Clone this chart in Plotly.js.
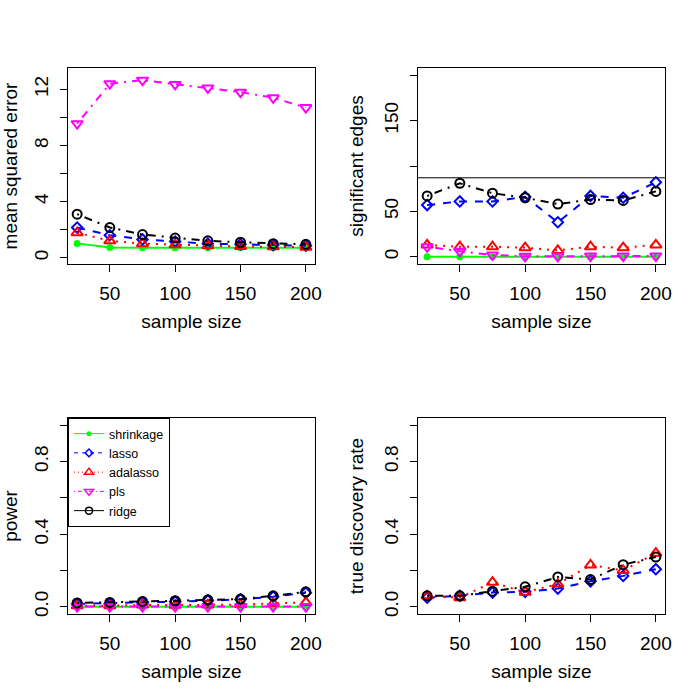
<!DOCTYPE html>
<html>
<head>
<meta charset="utf-8">
<script src="https://cdn.plot.ly/plotly-3.0.1.min.js"></script>
<style>html,body{margin:0;padding:0;background:#fff}#chart{width:700px;height:700px}</style>
</head>
<body>
<div id="chart"></div>
<script>
// ---- data ----
const sampleSize = [25, 50, 75, 100, 125, 150, 175, 200];
const methods = ["shrinkage", "lasso", "adalasso", "pls", "ridge"];

const mseShrinkage = [1.02, 0.72, 0.7, 0.7, 0.7, 0.7, 0.7, 0.7];
const mseLasso     = [2.15, 1.6, 1.3, 1.15, 1.0, 0.95, 0.9, 0.85];
const mseAdalasso  = [1.78, 1.2, 1.0, 0.92, 0.85, 0.8, 0.78, 0.75];
const msePls       = [9.55, 12.4, 12.65, 12.35, 12.1, 11.8, 11.4, 10.7];
const mseRidge     = [3.1, 2.15, 1.65, 1.4, 1.2, 1.1, 1.0, 0.95];

const edgesShrinkage = [0, 0, 0, 0, 0, 0, 0, 0];
const edgesLasso     = [57, 61, 61, 66, 38, 67, 65, 82];
const edgesAdalasso  = [13, 11, 11, 10, 7, 11, 10, 13];
const edgesPls       = [11, 6, 2, 0.5, 0.5, 0.8, 0.8, 0.8];
const edgesRidge     = [67, 81, 70, 65, 58, 63, 62, 72];
const trueEdges = 87;

const powerShrinkage = [0, 0, 0, 0, 0, 0, 0, 0];
const powerLasso     = [0.016, 0.018, 0.024, 0.028, 0.034, 0.04, 0.055, 0.077];
const powerAdalasso  = [0.005, 0.005, 0.01, 0.008, 0.01, 0.012, 0.018, 0.024];
const powerPls       = [0.001, 0.001, 0.001, 0.001, 0.001, 0.001, 0.001, 0.001];
const powerRidge     = [0.021, 0.024, 0.029, 0.033, 0.038, 0.042, 0.06, 0.082];

const tdrLasso    = [0.05, 0.06, 0.078, 0.082, 0.1, 0.14, 0.17, 0.207];
const tdrAdalasso = [0.06, 0.05, 0.135, 0.08, 0.125, 0.23, 0.2, 0.295];
const tdrRidge    = [0.06, 0.06, 0.086, 0.11, 0.164, 0.15, 0.232, 0.274];

const xTicks = [50, 100, 150, 200];
const mseTicks = [0, 2, 4, 6, 8, 10, 12];
const mseTickText = ["0", "", "4", "", "8", "", "12"];
const edgeTicks = [0, 50, 100, 150, 200];
const edgeTickText = ["0", "50", "", "150", ""];
const rateTicks = [0, 0.2, 0.4, 0.6, 0.8, 1.0];
const rateTickText = ["0.0", "", "0.4", "", "0.8", ""];

// ---- styles ----
const style = {
  shrinkage: {color: "#00FF00", dash: "solid", symbol: "circle", size: 7, lw: 0},
  lasso:     {color: "#0000FF", dash: "8px,8px", symbol: "diamond-open", size: 8, lw: 2},
  adalasso:  {color: "#FF0000", dash: "2px,6px", symbol: "triangle-up-open", size: 10, lw: 2},
  pls:       {color: "#FF00FF", dash: "2px,6px,8px,6px", symbol: "triangle-down-open", size: 10, lw: 2},
  ridge:     {color: "#000000", dash: "2px,6px,8px,6px", symbol: "circle-open", size: 9, lw: 2}
};

function tr(name, y, xa, ya) {
  const s = style[name];
  return {
    type: "scatter", mode: "lines+markers", x: sampleSize, y: y, name: name,
    xaxis: xa, yaxis: ya, showlegend: false, cliponaxis: false,
    line: {color: s.color, width: 2, dash: s.dash},
    marker: {symbol: s.symbol, size: s.size, color: s.color, line: {color: s.color, width: s.lw}}
  };
}
function legTr(name, dash) {
  const s = style[name];
  return {
    type: "scatter", mode: "lines+markers", x: [null], y: [null], name: name,
    xaxis: "x3", yaxis: "y3", showlegend: true,
    line: {color: s.color, width: 1, dash: dash},
    marker: {symbol: s.symbol, size: s.size - 2, color: s.color, line: {color: s.color, width: s.lw ? 1.5 : 0}}
  };
}

const traces = [
  tr("shrinkage", mseShrinkage, "x", "y"),
  tr("lasso", mseLasso, "x", "y"),
  tr("adalasso", mseAdalasso, "x", "y"),
  tr("pls", msePls, "x", "y"),
  tr("ridge", mseRidge, "x", "y"),

  tr("shrinkage", edgesShrinkage, "x2", "y2"),
  tr("lasso", edgesLasso, "x2", "y2"),
  tr("adalasso", edgesAdalasso, "x2", "y2"),
  tr("pls", edgesPls, "x2", "y2"),
  tr("ridge", edgesRidge, "x2", "y2"),

  tr("shrinkage", powerShrinkage, "x3", "y3"),
  tr("lasso", powerLasso, "x3", "y3"),
  tr("adalasso", powerAdalasso, "x3", "y3"),
  tr("pls", powerPls, "x3", "y3"),
  tr("ridge", powerRidge, "x3", "y3"),

  tr("lasso", tdrLasso, "x4", "y4"),
  tr("adalasso", tdrAdalasso, "x4", "y4"),
  tr("ridge", tdrRidge, "x4", "y4"),

  legTr("shrinkage", "solid"),
  legTr("lasso", "4px,4px"),
  legTr("adalasso", "1px,3px"),
  legTr("pls", "1px,3px,4px,3px"),
  legTr("ridge", "solid")
];

const FONT = "Liberation Sans, Arial, Helvetica, sans-serif";
const FS = 19;
const W = 700, H = 700;
function px(a, b) { return [a / W, b / W]; }
function py(top, bottom) { return [(H - bottom) / H, (H - top) / H]; }

function xax(domain, anchor) {
  return {
    domain: domain, anchor: anchor, range: [18, 207], tickvals: xTicks,
    ticks: "outside", ticklen: 7, tickwidth: 1, tickcolor: "#000",
    showline: true, mirror: true, linecolor: "#000", linewidth: 1,
    showgrid: false, zeroline: false, ticklabelstandoff: 5,
    tickfont: {family: FONT, size: FS, color: "#000"},
    title: {text: "sample size", font: {family: FONT, size: FS, color: "#000"}, standoff: 11}
  };
}
function yax(domain, anchor, range, tv, tt, title) {
  return {
    domain: domain, anchor: anchor, range: range, tickvals: tv, ticktext: tt,
    tickangle: -90, ticks: "outside", ticklen: 7, tickwidth: 1, tickcolor: "#000",
    showline: true, mirror: true, linecolor: "#000", linewidth: 1,
    showgrid: false, zeroline: false, ticklabelstandoff: 4,
    tickfont: {family: FONT, size: FS, color: "#000"},
    title: {text: title, font: {family: FONT, size: FS, color: "#000"}, standoff: 12}
  };
}

const layout = {
  width: W, height: H, margin: {l: 0, r: 0, t: 0, b: 0},
  paper_bgcolor: "#fff", plot_bgcolor: "#fff",
  font: {family: FONT, size: FS, color: "#000"},
  xaxis:  xax(px(68, 315), "y"),
  yaxis:  yax(py(68, 264), "x", [-0.45, 13.52], mseTicks, mseTickText, "mean squared error"),
  xaxis2: xax(px(418, 665), "y2"),
  yaxis2: yax(py(68, 264), "x2", [-8, 208], edgeTicks, edgeTickText, "significant edges"),
  xaxis3: xax(px(68, 315), "y3"),
  yaxis3: yax(py(418, 614), "x3", [-0.04, 1.04], rateTicks, rateTickText, "power"),
  xaxis4: xax(px(418, 665), "y4"),
  yaxis4: yax(py(418, 614), "x4", [-0.04, 1.04], rateTicks, rateTickText, "true discovery rate"),
  shapes: [{type: "line", xref: "x2 domain", yref: "y2", x0: 0, x1: 1, y0: trueEdges, y1: trueEdges,
            line: {color: "#000", width: 1}}],
  legend: {x: 68 / W, y: (H - 418) / H, xanchor: "left", yanchor: "top",
           bordercolor: "#000", borderwidth: 1, bgcolor: "#fff",
           font: {family: FONT, size: 12.5, color: "#000"}, tracegroupgap: 0, itemwidth: 30}
};

Plotly.newPlot("chart", traces, layout, {displayModeBar: false, staticPlot: true});
</script>
</body>
</html>
